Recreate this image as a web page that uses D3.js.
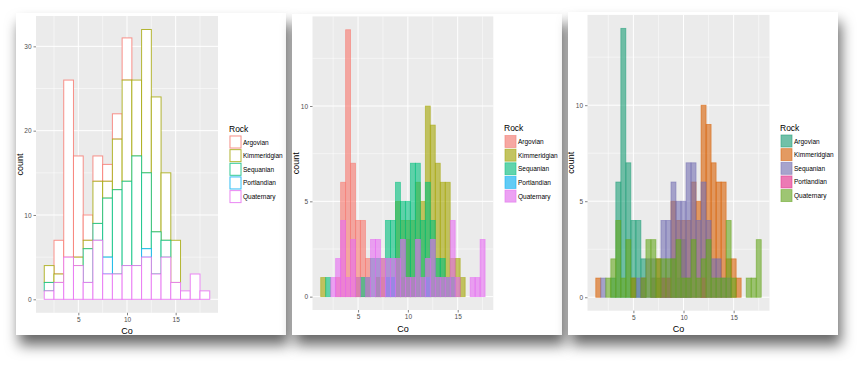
<!DOCTYPE html>
<html><head><meta charset="utf-8">
<script src="https://cdn.jsdelivr.net/npm/d3@7"></script>
<style>
body{margin:0;background:#fff;}
svg{display:block;font-family:"Liberation Sans",Arial,sans-serif;}
</style>
</head><body>
<svg id="chart" width="861" height="366"></svg>
<script>
// ---------- data ----------
const rocks = ["Argovian","Kimmeridgian","Sequanian","Portlandian","Quaternary"];
const hueColors = ["#F8766D","#A3A500","#00BF7D","#00B0F6","#E76BF3"];
const dark2Colors = ["#1B9E77","#D95F02","#7570B3","#E7298A","#66A61E"];

// panel 1: binwidth 1, stacked outlines
const wideBinStart = 1.5, wideBinWidth = 1;
const wideArgovian     = [0,4,21,12,3,3,2,3,5,0,0,0,0,0,0,0,0];
const wideKimmeridgian = [2,1,0,1,1,5,2,6,12,9,17,16,8,5,0,0,0];
const wideSequanian    = [1,0,0,0,4,2,7,10,10,13,9,5,2,0,0,0,0];
const widePortlandian  = [0,0,0,0,0,0,2,0,0,0,1,0,0,0,0,0,0];
const wideQuaternary   = [1,2,5,4,2,7,3,3,4,4,5,3,5,2,1,3,1];

// panels 2 & 3: binwidth 0.5, overlapping
const narrowBinStart = 1.25, narrowBinWidth = 0.5;
const narrowArgovian     = [0,0,0,1,6,14,7,4,4,2,0,1,1,1,1,2,1,3,1,0,0,0,0,0,0,0,0,0,0,0,0,0,0];
const narrowKimmeridgian = [1,0,0,0,0,0,0,1,0,1,0,1,2,0,0,5,4,4,4,6,5,10,9,7,6,6,2,2,1,0,0,0,0];
const narrowSequanian    = [0,1,0,0,0,0,0,0,1,1,2,2,0,4,4,6,5,5,7,7,4,6,4,2,2,1,1,0,0,0,0,0,0];
const narrowPortlandian  = [0,0,0,0,0,0,0,0,0,0,0,0,0,1,1,0,0,0,0,0,0,1,0,0,0,0,0,0,0,0,0,0,0];
const narrowQuaternary   = [0,0,1,2,4,1,3,1,0,1,3,3,2,2,2,2,3,1,1,3,1,2,3,1,1,1,4,1,0,0,1,1,3];

const xTicks = [5,10,15];
const xMinorTicks = [2.5,7.5,12.5,17.5];
const yTicksWide = [0,10,20,30];
const yMinorWide = [5,15,25];
const yTicksNarrow = [0,5,10];
const yMinorNarrow = [2.5,7.5,12.5];

const wideSeries = [wideArgovian,wideKimmeridgian,wideSequanian,widePortlandian,wideQuaternary];
const narrowSeries = [narrowArgovian,narrowKimmeridgian,narrowSequanian,narrowPortlandian,narrowQuaternary];

// ---------- drawing ----------
const svg = d3.select("#chart");
const defs = svg.append("defs");
const f = defs.append("filter").attr("id","shadow").attr("x","-10%").attr("y","-10%").attr("width","125%").attr("height","130%");
f.append("feDropShadow").attr("dx",3).attr("dy",10).attr("stdDeviation",7)
  .attr("flood-color","#000").attr("flood-opacity",0.6);

function drawPanel(cfg){
  const g = svg.append("g");
  g.append("rect").attr("x",cfg.card[0]).attr("y",cfg.card[1])
    .attr("width",cfg.card[2]-cfg.card[0]).attr("height",cfg.card[3]-cfg.card[1])
    .attr("fill","#fff").attr("filter","url(#shadow)");
  const p = cfg.plot;
  const nBins = cfg.series[0].length;
  const xLo = cfg.binStart, xHi = cfg.binStart + nBins*cfg.binWidth;
  const xExp = (xHi-xLo)*0.05;
  const x = d3.scaleLinear().domain([xLo-xExp, xHi+xExp]).range([p[0],p[2]]);
  const y = d3.scaleLinear().domain([-cfg.yMax*0.05, cfg.yMax*1.05]).range([p[3],p[1]]);
  g.append("rect").attr("x",p[0]).attr("y",p[1]).attr("width",p[2]-p[0]).attr("height",p[3]-p[1]).attr("fill","#EBEBEB");
  const grid = g.append("g");
  xMinorTicks.forEach(t=>grid.append("line").attr("x1",x(t)).attr("x2",x(t)).attr("y1",p[1]).attr("y2",p[3]).attr("stroke","#fff").attr("stroke-width",0.5));
  cfg.yMinor.forEach(t=>grid.append("line").attr("y1",y(t)).attr("y2",y(t)).attr("x1",p[0]).attr("x2",p[2]).attr("stroke","#fff").attr("stroke-width",0.5));
  xTicks.forEach(t=>grid.append("line").attr("x1",x(t)).attr("x2",x(t)).attr("y1",p[1]).attr("y2",p[3]).attr("stroke","#fff").attr("stroke-width",1));
  cfg.yTicks.forEach(t=>grid.append("line").attr("y1",y(t)).attr("y2",y(t)).attr("x1",p[0]).attr("x2",p[2]).attr("stroke","#fff").attr("stroke-width",1));

  const bars = g.append("g");
  if(cfg.stacked){
    const cum = new Array(nBins).fill(0);
    const lows = [];
    for(let s=cfg.series.length-1;s>=0;s--){
      lows[s] = cum.slice();
      for(let i=0;i<nBins;i++) cum[i]+=cfg.series[s][i];
    }
    cfg.series.forEach((vals,s)=>{
      vals.forEach((v,i)=>{
        const x0 = x(cfg.binStart+i*cfg.binWidth), x1 = x(cfg.binStart+(i+1)*cfg.binWidth);
        const y0 = y(lows[s][i]), y1 = y(lows[s][i]+v);
        bars.append("rect").attr("x",x0).attr("y",y1).attr("width",x1-x0).attr("height",Math.max(0,y0-y1))
          .attr("fill","#fff").attr("stroke",cfg.colors[s]).attr("stroke-width",1).attr("stroke-opacity",0.8);
      });
    });
  } else {
    cfg.series.forEach((vals,s)=>{
      vals.forEach((v,i)=>{
        const x0 = x(cfg.binStart+i*cfg.binWidth), x1 = x(cfg.binStart+(i+1)*cfg.binWidth);
        bars.append("rect").attr("x",x0).attr("y",y(v)).attr("width",x1-x0).attr("height",y(0)-y(v))
          .attr("fill",cfg.colors[s]).attr("fill-opacity",0.6)
          .attr("stroke",cfg.colors[s]).attr("stroke-opacity",0.6).attr("stroke-width",0.8);
      });
    });
  }

  const ax = g.append("g").attr("transform",`translate(0,${p[3]})`)
    .call(d3.axisBottom(x).tickValues(xTicks).tickSize(2.5).tickPadding(2));
  const ay = g.append("g").attr("transform",`translate(${p[0]},0)`)
    .call(d3.axisLeft(y).tickValues(cfg.yTicks).tickSize(2.5).tickPadding(2));
  [ax,ay].forEach(a=>{
    a.select(".domain").remove();
    a.selectAll(".tick line").attr("stroke","#333").attr("stroke-width",0.6);
    a.selectAll(".tick text").attr("fill","#4D4D4D").style("font-size","6.5px").style("font-family","Liberation Sans, Arial, sans-serif");
  });
  g.append("text").attr("x",(p[0]+p[2])/2).attr("y",cfg.xTitleY).attr("text-anchor","middle")
    .style("font-size","9px").attr("fill","#000").text("Co");
  g.append("text").attr("transform",`translate(${cfg.yTitleX},${(p[1]+p[3])/2}) rotate(-90)`).attr("text-anchor","middle")
    .style("font-size","9px").attr("fill","#000").text("count");
  const L = cfg.legend;
  g.append("text").attr("x",L.x).attr("y",L.titleY).style("font-size","8.5px").attr("fill","#000").text("Rock");
  rocks.forEach((r,i)=>{
    const ky = L.keyTop + i*13.65;
    g.append("rect").attr("x",L.x+0.5).attr("y",ky).attr("width",12).attr("height",13).attr("fill","#F2F2F2");
    if(cfg.stacked){
      g.append("rect").attr("x",L.x+1).attr("y",ky+0.5).attr("width",11).attr("height",12)
        .attr("fill","#fff").attr("stroke",cfg.colors[i]).attr("stroke-width",1).attr("stroke-opacity",0.8);
    } else {
      g.append("rect").attr("x",L.x+1).attr("y",ky+0.5).attr("width",11).attr("height",12)
        .attr("fill",cfg.colors[i]).attr("fill-opacity",0.6).attr("stroke",cfg.colors[i]).attr("stroke-opacity",0.6).attr("stroke-width",0.8);
    }
    g.append("text").attr("x",L.x+14).attr("y",ky+9).style("font-size","6.5px").attr("fill","#000").text(r);
  });
}

drawPanel({card:[16,13,286,335], plot:[36,16,218,312.8], series:wideSeries, binStart:wideBinStart, binWidth:wideBinWidth,
  yMax:32, yTicks:yTicksWide, yMinor:yMinorWide, stacked:true, colors:hueColors,
  xTitleY:334, yTitleX:23, legend:{x:229, titleY:132, keyTop:135.5}});
drawPanel({card:[292,14,562,335], plot:[312.5,16.4,493.3,310], series:narrowSeries, binStart:narrowBinStart, binWidth:narrowBinWidth,
  yMax:14, yTicks:yTicksNarrow, yMinor:yMinorNarrow, stacked:false, colors:hueColors,
  xTitleY:332, yTitleX:299, legend:{x:504, titleY:131, keyTop:135}});
drawPanel({card:[568,12,838,335], plot:[587.5,14.9,769.5,310.7], series:narrowSeries, binStart:narrowBinStart, binWidth:narrowBinWidth,
  yMax:14, yTicks:yTicksNarrow, yMinor:yMinorNarrow, stacked:false, colors:dark2Colors,
  xTitleY:332, yTitleX:574, legend:{x:780, titleY:131, keyTop:134.5}});
</script>
</body></html>
